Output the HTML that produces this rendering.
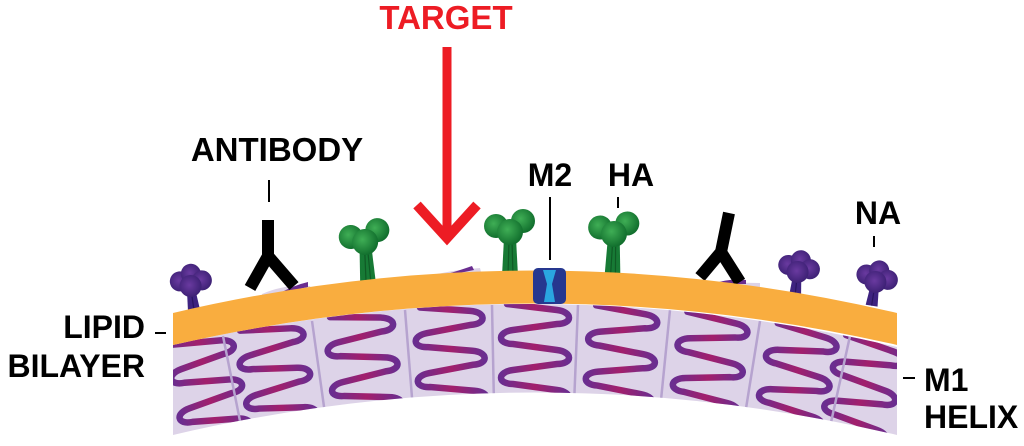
<!DOCTYPE html>
<html><head><meta charset="utf-8">
<style>
html,body{margin:0;padding:0;background:#fff;}
svg{display:block;}
text{font-family:"Liberation Sans",Arial,sans-serif;font-weight:bold;}
</style></head>
<body>
<svg width="1024" height="446" viewBox="0 0 1024 446" xmlns="http://www.w3.org/2000/svg">
<defs>
  <linearGradient id="hg" x1="0" y1="0" x2="1" y2="0">
    <stop offset="0" stop-color="#6a2d90"/>
    <stop offset="0.5" stop-color="#a21f6c"/>
    <stop offset="1" stop-color="#6a2d90"/>
  </linearGradient>
  <radialGradient id="gg" cx="0.4" cy="0.4" r="0.6">
    <stop offset="0" stop-color="#3fae55"/>
    <stop offset="1" stop-color="#12702e"/>
  </radialGradient>
  <radialGradient id="pg" cx="0.45" cy="0.45" r="0.6">
    <stop offset="0" stop-color="#6a3aa0"/>
    <stop offset="1" stop-color="#3a1f72"/>
  </radialGradient>
  <clipPath id="lil">
    <path d="M173 345 Q535 262 897 347 L897 435 Q535 350 173 435 Z"/>
  </clipPath>
  <g id="helix">
    <path d="M-28 -2 L22 4 C38 6,38 18,22 18 L-22 24 C-38 26,-38 38,-22 38 L22 44 C38 46,38 58,22 58 L-22 64 C-38 66,-38 78,-22 78 L22 84 C38 86,38 98,22 98 L-22 104" fill="none" stroke="url(#hg)" stroke-width="6.5" stroke-linecap="round"/>
  </g>
  <g id="ha">
    <path d="M-6 8 L6 8 L8 46 L-8 46 Z" fill="#177a35"/>
    <path d="M-1 10 L-2 46 M2 10 L3 46" stroke="#0f5a25" stroke-width="1.2"/>
    <circle cx="-14" cy="-4" r="12" fill="url(#gg)"/>
    <circle cx="13" cy="-9" r="12" fill="url(#gg)"/>
    <circle cx="0" cy="2" r="13" fill="url(#gg)"/>
  </g>
  <g id="na">
    <path d="M-4 6 L4 6 L6 28 L-6 28 Z" fill="#3e2380"/>
    <path d="M0 8 L0 28" stroke="#2a1460" stroke-width="1.2"/>
    <circle cx="-10" cy="-2" r="10" fill="url(#pg)"/>
    <circle cx="2" cy="-8" r="10" fill="url(#pg)"/>
    <circle cx="12" cy="0" r="10" fill="url(#pg)"/>
    <circle cx="0" cy="4" r="11" fill="url(#pg)"/>
  </g>
</defs>

<path d="M173 345 Q535 262 897 347 L897 435 Q535 350 173 435 Z" fill="#ddd3e8"/>
<g clip-path="url(#lil)">
  <use href="#helix" transform="translate(198,341) rotate(-12)"/>
  <use href="#helix" transform="translate(268,328) rotate(-9.5)"/>
  <use href="#helix" transform="translate(358,316) rotate(-6.3)"/>
  <use href="#helix" transform="translate(448,308) rotate(-3)"/>
  <use href="#helix" transform="translate(535,306) rotate(0)"/>
  <use href="#helix" transform="translate(624,309) rotate(3.4)"/>
  <use href="#helix" transform="translate(715,317) rotate(6.7)"/>
  <use href="#helix" transform="translate(805,330) rotate(10)"/>
  <use href="#helix" transform="translate(873,343) rotate(12.4)"/>
  <g stroke="#b6a3cf" stroke-width="2.5">
    <line x1="223" y1="336" x2="243" y2="436"/>
    <line x1="312" y1="321" x2="326" y2="421"/>
    <line x1="405" y1="310" x2="413" y2="410"/>
    <line x1="492" y1="305" x2="494" y2="405"/>
    <line x1="578" y1="305" x2="574" y2="405"/>
    <line x1="670" y1="310" x2="660" y2="410"/>
    <line x1="760" y1="321" x2="744" y2="421"/>
    <line x1="850" y1="336" x2="828" y2="436"/>
  </g>
</g>

<path d="M262 294 Q285 284 310 286 L312 290 Q285 290 262 298 Z" fill="#ddd3e8"/>
<path d="M280 293 Q295 285 308 282 L308 287 Z" fill="#6a2d90"/>
<path d="M420 278 Q450 270 480 268 L481 272 Q450 274 420 282 Z" fill="#ddd3e8"/>
<path d="M430 279 Q455 272 472 266 L474 270 Z" fill="#6a2d90"/>
<path d="M700 282 L760 283 L760 290 L700 290 Z" fill="#ddd3e8"/>
<path d="M712 284 Q730 278 746 280 L746 284 Z" fill="#6a2d90"/>

<use href="#na" transform="translate(190,282) rotate(-8)"/>
<use href="#ha" transform="translate(365,240) rotate(-4)"/>
<use href="#ha" transform="translate(510,230)"/>
<use href="#ha" transform="translate(614,232) rotate(2)"/>
<use href="#na" transform="translate(798,268) rotate(6)"/>
<use href="#na" transform="translate(876,278) rotate(9)"/>

<g stroke="#000" stroke-width="12" fill="none" stroke-linejoin="miter">
  <path d="M268 220 L268 256 M250 288 L268 256 L294 286"/>
  <path d="M729 213 L721 252 M700 277 L721 252 L740 282"/>
</g>

<path d="M173 313 Q535 228 897 313 L897 345 Q535 262 173 345 Z" fill="#f9ad3f"/>

<rect x="533" y="268" width="33" height="36" rx="5" fill="#26378f"/>
<path d="M543 270 L556 270 L552 284 L555 302 L544 302 L547 284 Z" fill="#2aa6e0"/>

<line x1="447" y1="47" x2="447" y2="232" stroke="#ed1c24" stroke-width="9"/>
<path d="M417 205 L447 238 L477 205" fill="none" stroke="#ed1c24" stroke-width="10"/>

<text x="446" y="29" font-size="33" fill="#ed1c24" text-anchor="middle">TARGET</text>
<text x="277" y="161" font-size="33" fill="#000" text-anchor="middle">ANTIBODY</text>
<text x="550" y="186" font-size="32" fill="#000" text-anchor="middle">M2</text>
<text x="631" y="186" font-size="32" fill="#000" text-anchor="middle">HA</text>
<text x="878" y="224" font-size="32" fill="#000" text-anchor="middle">NA</text>
<text x="145" y="338" font-size="32" fill="#000" text-anchor="end">LIPID</text>
<text x="145" y="377" font-size="32" fill="#000" text-anchor="end">BILAYER</text>
<text x="924" y="391" font-size="32" fill="#000">M1</text>
<text x="924" y="428" font-size="32" fill="#000">HELIX</text>

<g stroke="#000" stroke-width="2">
  <line x1="269" y1="180" x2="269" y2="202"/>
  <line x1="550" y1="197" x2="550" y2="260"/>
  <line x1="618" y1="197" x2="618" y2="208"/>
  <line x1="874" y1="236" x2="874" y2="247"/>
  <line x1="155" y1="333" x2="166" y2="333"/>
  <line x1="903" y1="378" x2="915" y2="378"/>
</g>
</svg>
</body></html>
